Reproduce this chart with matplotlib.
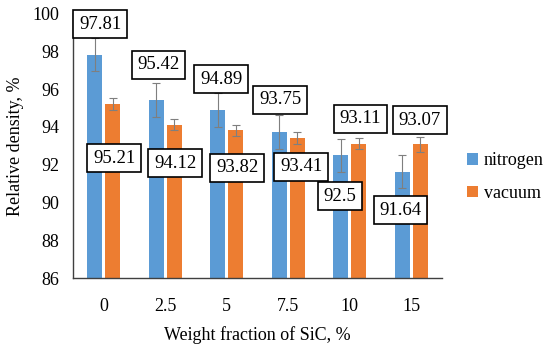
import matplotlib
matplotlib.use("Agg")
import matplotlib.pyplot as plt
import numpy as np

categories = ["0", "2.5", "5", "7.5", "10", "15"]
nitrogen = [97.81, 95.42, 94.89, 93.75, 92.5, 91.64]
vacuum = [95.21, 94.12, 93.82, 93.41, 93.11, 93.07]
nitrogen_err = [0.88, 0.9, 0.9, 0.9, 0.88, 0.88]
vacuum_err = [0.3, 0.3, 0.3, 0.3, 0.3, 0.42]

# label placement (data coords) for the value boxes
nit_label_pos = [(-0.06, 99.43), (0.89, 97.27), (1.91, 96.51), (2.87, 95.42), (3.84, 90.34), (4.83, 89.6)]
vac_label_pos = [(0.17, 92.35), (1.16, 92.09), (2.17, 91.83), (3.21, 91.88), (4.17, 94.42), (5.14, 94.36)]

plt.rcParams['font.family'] = ['Liberation Serif', 'DejaVu Serif']

fig = plt.figure(figsize=(5.5, 3.48), dpi=100)
ax = fig.add_axes([0.1327, 0.2003, 0.6709, 0.7615])

x = np.arange(len(categories))
w = 0.24
off = 0.145
blue = "#5B9BD5"
orange = "#ED7D31"
ekw = dict(ecolor="#7f7f7f", elinewidth=0.8, capsize=3, capthick=0.8)
ax.bar(x - off, nitrogen, w, color=blue, label="nitrogen", yerr=nitrogen_err, error_kw=ekw)
ax.bar(x + off, vacuum, w, color=orange, label="vacuum", yerr=vacuum_err, error_kw=ekw)

bbox = dict(boxstyle="square,pad=0.3", fc="white", ec="black", lw=1.2)
for v, (lx, ly) in zip(nitrogen, nit_label_pos):
    ax.text(lx, ly, f"{v:g}", ha="center", va="center", fontsize=13.5, bbox=bbox, zorder=5)
for v, (lx, ly) in zip(vacuum, vac_label_pos):
    ax.text(lx, ly, f"{v:g}", ha="center", va="center", fontsize=13.5, bbox=bbox, zorder=5)

ax.set_ylim(86, 100)
ax.set_yticks(np.arange(86, 101, 2))
ax.set_xlim(-0.5, len(categories) - 0.5)
ax.set_xticks(x)
ax.set_xticklabels(categories)
ax.tick_params(axis="both", length=0, labelsize=13)
ax.tick_params(axis="x", pad=14)
ax.tick_params(axis="y", pad=10)
for s in ["top", "right"]:
    ax.spines[s].set_visible(False)
for s in ["left", "bottom"]:
    ax.spines[s].set_color("#404040")
    ax.spines[s].set_linewidth(1.0)

ax.set_ylabel("Relative density, %", fontsize=13, labelpad=6)
ax.set_xlabel("Weight fraction of SiC, %", fontsize=13, labelpad=8)

fig.legend(loc="center left", bbox_to_anchor=(0.82, 0.491), frameon=False,
           prop={"family": ["Liberation Serif", "DejaVu Serif"], "size": 13},
           handlelength=0.6, handleheight=0.6, handletextpad=0.3, labelspacing=0.85)

fig.savefig("out.png", dpi=100)
